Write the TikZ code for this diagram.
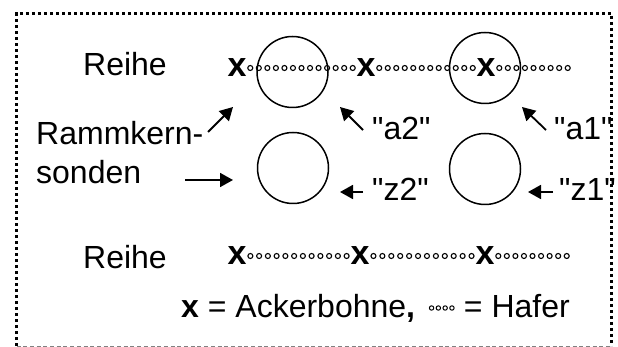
\documentclass[tikz,border=0pt]{standalone}
\usepackage{fontspec}
\setmainfont{Liberation Sans}[Ligatures=TeXOff]
\usetikzlibrary{arrows.meta,calc}

\tikzset{
  lbl/.style={inner sep=0pt, anchor=base west, font=\fontsize{32pt}{38pt}\selectfont},
  xmark/.style={inner sep=0pt, anchor=base, font=\fontsize{34pt}{40pt}\selectfont\bfseries},
  probe/.style={draw, circle, line width=1.5pt, minimum size=71pt, inner sep=0pt},
  hafer/.style={line width=1.1pt},
  arr/.style={line width=1.8pt, -{Triangle[length=13pt,width=14pt]}},
  frameA/.style={line width=2.6pt, dash pattern=on 2.6pt off 3.4pt},
  frameB/.style={line width=1pt, draw=black!50, dash pattern=on 4pt off 2.7pt},
}

\begin{document}
\begin{tikzpicture}[x=1pt,y=-1pt]
  \useasboundingbox (0,0) rectangle (618,347);

  % frame: dotted on three sides, thin dashed at the bottom
  \draw[frameA] (16.5,346) -- (16.5,13.5) -- (611.5,13.5) -- (611.5,346);
  \draw[frameB] (16.5,346) -- (611.5,346);

  % row labels
  \node[lbl] (reihe1) at (83,76) {Reihe};
  \node[lbl] (reihe2) at (83,269) {Reihe};
  \node[lbl] (ramm1) at (36,145) {Rammkern-};
  \node[lbl] (ramm2) at (36,184) {sonden};

  % upper row: field beans (x) with oats (small circles) between them
  \node[xmark] (u1) at (237,77) {x};
  \node[xmark] (u2) at (366,77) {x};
  \node[xmark] (u3) at (486,77) {x};
  \foreach \a/\b/\n in {246/357/13, 375/477/12, 495/572/9}
    \foreach \i in {1,...,\n}
      \draw[hafer] ({\a+(\i-0.5)*(\b-\a)/\n},68) circle (2.5);

  % lower row
  \node[xmark] (l1) at (237,265) {x};
  \node[xmark] (l2) at (360,265) {x};
  \node[xmark] (l3) at (485,265) {x};
  \foreach \a/\b/\n in {246/351/12, 369/476/12, 494/571/9}
    \foreach \i in {1,...,\n}
      \draw[hafer] ({\a+(\i-0.5)*(\b-\a)/\n},256) circle (2.5);

  % core probe positions
  \node[probe] (a2) at (292.5,72) {};
  \node[probe] (a1) at (485,68) {};
  \node[probe] (z2) at (293,168) {};
  \node[probe] (z1) at (485,169) {};

  % probe labels
  \node[lbl] (ta2) at (372,140) {"a2"};
  \node[lbl] (ta1) at (554,140) {"a1"};
  \node[lbl] (tz2) at (372,201) {"z2"};
  \node[lbl] (tz1) at (559,201) {"z1"};

  % arrow ends
  \coordinate (pa2s) at (363,130); \coordinate (pa2e) at (340,107);
  \coordinate (pa1s) at (546,130); \coordinate (pa1e) at (522,107);
  \coordinate (pz2s) at (363,192); \coordinate (pz2e) at (340,192);
  \coordinate (pz1s) at (553,192); \coordinate (pz1e) at (528,192);
  \coordinate (pr1s) at (208,132); \coordinate (pr1e) at (233,107);
  \coordinate (pr2s) at (185,180); \coordinate (pr2e) at (233,180);

  \draw[arr] (pa2s) -- (pa2e);
  \draw[arr] (pa1s) -- (pa1e);
  \draw[arr] (pz2s) -- (pz2e);
  \draw[arr] (pz1s) -- (pz1e);
  \draw[arr] (pr1s) -- (pr1e);
  \draw[arr] (pr2s) -- (pr2e);

  % legend
  \node[lbl] (legA) at (181,317) {\textbf{x} = Ackerbohne\textbf{,}};
  \node[lbl, anchor=base east] (legB) at (570,317) {= Hafer};
  \coordinate (legM) at ($(legA.base east)!0.5!(legB.base west)+(-8,-9)$);
  \foreach \i in {0,...,3}
    \draw[hafer, line width=1pt] ($(legM)+(\i*6.8,0)$) circle (2.2);
\end{tikzpicture}
\end{document}
